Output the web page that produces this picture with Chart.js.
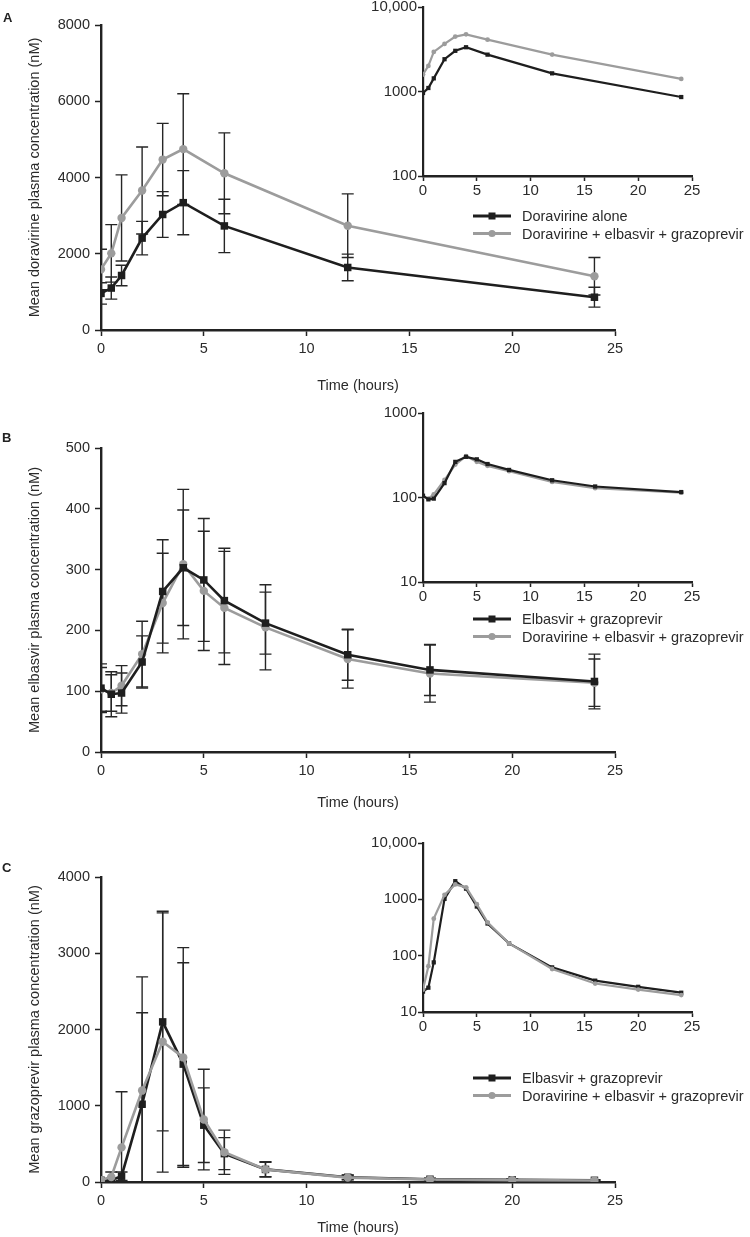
<!DOCTYPE html>
<html lang="en">
<head>
<meta charset="UTF-8" />
<title>Doravirine / elbasvir / grazoprevir plasma concentrations</title>
<script src="https://cdn.jsdelivr.net/npm/chart.js"></script>
<style>
  body { margin: 0; background: #fff; }
  #wrap { position: relative; width: 750px; height: 1237px; overflow: hidden; }
  #wrap canvas { position: absolute; }
  .tag { position: absolute; font: bold 13px 'Liberation Sans', Arial, sans-serif; color: #222; line-height: 15px; }
</style>
</head>
<body>
<div id="wrap">
  <canvas id="mainA" width="640" height="400" style="left:0;top:0"></canvas>
  <canvas id="logA" width="395" height="260" style="left:355px;top:-10px"></canvas>
  <canvas id="mainB" width="640" height="410" style="left:0;top:410px"></canvas>
  <canvas id="logB" width="395" height="250" style="left:355px;top:396px"></canvas>
  <canvas id="mainC" width="640" height="407" style="left:0;top:830px"></canvas>
  <canvas id="logC" width="395" height="280" style="left:355px;top:826px"></canvas>
  <div class="tag" style="left:3px;top:10px">A</div>
  <div class="tag" style="left:2px;top:430px">B</div>
  <div class="tag" style="left:2px;top:860px">C</div>
</div>

<script>
// ---- data ----

// A: doravirine
const timeA = [0, 0.5, 1, 2, 3, 4, 6, 12, 24];
const doraAlone = [960, 1100, 1430, 2410, 3030, 3340, 2730, 1640, 860];
const doraAloneSD = [280, 290, 270, 440, 600, 840, 700, 350, 260];
const doraCombo = [1590, 2010, 2940, 3660, 4470, 4745, 4110, 2735, 1410];
const doraComboSD = [530, 755, 1130, 1140, 950, 1450, 1060, 835, 490];

// B: elbasvir
const timeB = [0, 0.5, 1, 2, 3, 4, 5, 6, 8, 12, 16, 24];
const elbaEG = [105, 95, 97, 148, 264, 303, 283, 249, 212, 160, 135, 116];
const elbaEGSD = [40, 37, 33, 43, 85, 95, 101, 86, 51, 42, 42, 45];
const elbaDEG = [103, 97, 109, 161, 245, 309, 265, 237, 205, 153, 129, 114];
const elbaDEGSD = [36, 30, 33, 54, 82, 123, 98, 93, 70, 48, 47, 39];

// C: grazoprevir
const timeC = [0, 0.5, 1, 2, 3, 4, 5, 6, 8, 12, 16, 20, 24];
const grazEG = [23, 27, 76, 1020, 2100, 1546, 745, 372, 165, 62, 36, 28, 22];
const grazEGSD = [10, 20, 55, 1200, 1430, 1330, 490, 210, 95, 30, 15, 12, 8];
const grazDEG = [25, 65, 454, 1200, 1840, 1634, 819, 390, 165, 58, 32, 25, 20];
const grazDEGSD = [12, 66, 730, 1490, 1710, 1440, 660, 290, 100, 30, 15, 12, 8];

// axis ticks
const timeTicks = { min: 0, max: 25, step: 5 };
const logTicksA = [100, 1000, 10000];
const logTicksB = [10, 100, 1000];
const logTicksC = [10, 100, 1000, 10000];

const labelDoraAlone = 'Doravirine alone';
const labelEG = 'Elbasvir + grazoprevir';
const labelDEG = 'Doravirine + elbasvir + grazoprevir';

// ---- styling ----
const FONT = "'Liberation Sans', Arial, sans-serif";
const INK = '#1e1e1e';
const GREY = '#9c9c9c';
const AXIS = '#222';
const TEXT = '#2b2b2b';

const pts = (xs, ys) => xs.map((x, i) => ({ x: x, y: ys[i] }));

// vertical SD bars, drawn with the chart's own scales
const errorBars = {
  id: 'errorBars',
  beforeDatasetsDraw(chart, args, opts) {
    if (!opts.sd) return;
    const { ctx, chartArea } = chart;
    const xs = chart.scales.x, ys = chart.scales.y;
    ctx.save();
    ctx.beginPath();
    ctx.rect(chartArea.left, chartArea.top - 2, chartArea.right - chartArea.left, chartArea.bottom - chartArea.top + 1);
    ctx.clip();
    ctx.strokeStyle = opts.color;
    ctx.lineWidth = opts.width;
    chart.data.datasets.forEach((ds, k) => {
      const sd = opts.sd[k];
      ds.data.forEach((p, i) => {
        const px = xs.getPixelForValue(p.x);
        const hi = ys.getPixelForValue(p.y + sd[i]);
        const lo = ys.getPixelForValue(p.y - sd[i]);
        ctx.beginPath();
        ctx.moveTo(px, hi); ctx.lineTo(px, lo);
        ctx.moveTo(px - opts.cap, hi); ctx.lineTo(px + opts.cap, hi);
        ctx.moveTo(px - opts.cap, lo); ctx.lineTo(px + opts.cap, lo);
        ctx.stroke();
      });
    });
    ctx.restore();
  }
};

// legend under the inset: short line with marker, then text
const lineLegend = {
  id: 'lineLegend',
  afterDraw(chart, args, opts) {
    if (!opts.dy) return;
    const { ctx, chartArea } = chart;
    ctx.save();
    ctx.font = '14.5px ' + FONT;
    ctx.textBaseline = 'middle';
    chart.data.datasets.forEach((ds, i) => {
      const y = chartArea.bottom + opts.dy + i * opts.gap;
      const x0 = chartArea.left + opts.dx;
      ctx.strokeStyle = ds.borderColor;
      ctx.lineWidth = 3;
      ctx.beginPath(); ctx.moveTo(x0, y); ctx.lineTo(x0 + 38, y); ctx.stroke();
      ctx.fillStyle = ds.borderColor;
      if (ds.pointStyle === 'rect') {
        ctx.fillRect(x0 + 19 - 3.5, y - 3.5, 7, 7);
      } else {
        ctx.beginPath(); ctx.arc(x0 + 19, y, 3.6, 0, Math.PI * 2); ctx.fill();
      }
      ctx.fillStyle = TEXT;
      ctx.fillText(ds.label, x0 + 49, y + 1);
    });
    ctx.restore();
  }
};

function series(label, xs, ys, dark, order, small) {
  return {
    label: label,
    data: pts(xs, ys),
    borderColor: dark ? INK : GREY,
    backgroundColor: dark ? INK : GREY,
    pointStyle: dark ? 'rect' : 'circle',
    pointRadius: small ? (dark ? 3 : 2.4) : (dark ? 5.3 : 4.2),
    pointBorderWidth: 0,
    borderWidth: small ? 2.2 : 2.6,
    tension: 0,
    order: order
  };
}

function xScale(height, tickLen, pad, fontSize, title, titleBottom) {
  return {
    type: 'linear',
    min: timeTicks.min, max: timeTicks.max,
    ticks: { stepSize: timeTicks.step, color: TEXT, font: { family: FONT, size: fontSize }, padding: pad, maxRotation: 0 },
    grid: { drawOnChartArea: false, drawTicks: true, tickLength: tickLen, tickWidth: 1.5, color: AXIS },
    border: { color: AXIS, width: 2.4 },
    title: { display: !!title, text: title, color: TEXT, font: { family: FONT, size: 14.5 }, padding: { top: 0, bottom: titleBottom } },
    afterFit: s => { s.height = height; }
  };
}

function mainChart(id, datasets, sd, yMax, yStep, yTitle, padTop, xHeight, titleBottom) {
  return new Chart(document.getElementById(id), {
    type: 'line',
    data: { datasets: datasets },
    options: {
      responsive: false, animation: false, devicePixelRatio: 1,
      layout: { padding: { top: padTop, right: 25, left: 0, bottom: 0 } },
      scales: {
        x: xScale(xHeight, 6, 4, 14.5, 'Time (hours)', titleBottom),
        y: {
          type: 'linear', min: 0, max: yMax,
          ticks: { stepSize: yStep, callback: v => String(v), color: TEXT, font: { family: FONT, size: 14.5 }, padding: 5 },
          grid: { drawOnChartArea: false, drawTicks: true, tickLength: 6, tickWidth: 1.5, color: AXIS },
          border: { color: AXIS, width: 2.4 },
          title: { display: true, text: yTitle, color: TEXT, font: { family: FONT, size: 14.5 }, padding: { top: 26, bottom: 0 } },
          afterFit: s => { s.width = 101; }
        }
      },
      plugins: {
        legend: { display: false }, tooltip: { enabled: false },
        errorBars: { sd: sd, color: '#262626', width: 1.4, cap: 6 },
        lineLegend: {}
      }
    },
    plugins: [errorBars, lineLegend]
  });
}

function logChart(id, datasets, decades, padTop, xHeight, legendDy) {
  return new Chart(document.getElementById(id), {
    type: 'line',
    data: { datasets: datasets },
    options: {
      responsive: false, animation: false, devicePixelRatio: 1,
      layout: { padding: { top: padTop, right: 58, left: 0, bottom: 0 } },
      scales: {
        x: xScale(xHeight, 5, 1, 15, '', 0),
        y: {
          type: 'logarithmic', min: decades[0], max: decades[decades.length - 1],
          afterBuildTicks: s => { s.ticks = decades.map(v => ({ value: v })); },
          ticks: { callback: v => (v >= 10000 ? v.toLocaleString('en-US') : String(v)), color: TEXT, font: { family: FONT, size: 15 }, padding: 1 },
          grid: { drawOnChartArea: false, drawTicks: true, tickLength: 5, tickWidth: 1.5, color: AXIS },
          border: { color: AXIS, width: 2.2 },
          afterFit: s => { s.width = 68; }
        }
      },
      plugins: {
        legend: { display: false }, tooltip: { enabled: false },
        errorBars: {},
        lineLegend: { dx: 50, dy: legendDy, gap: 17.5 }
      }
    },
    plugins: [errorBars, lineLegend]
  });
}

// ---- panel A ----
mainChart('mainA',
  [series(labelDoraAlone, timeA, doraAlone, true, 0), series(labelDEG, timeA, doraCombo, false, 1)],
  [doraAloneSD, doraComboSD], 8000, 2000,
  'Mean doravirine plasma concentration (nM)', 25, 70, 5);
logChart('logA',
  [series(labelDoraAlone, timeA, doraAlone, true, 0, true), series(labelDEG, timeA, doraCombo, false, 1, true)],
  logTicksA, 17, 74, 40);

// ---- panel B ----
mainChart('mainB',
  [series(labelEG, timeB, elbaEG, true, 0), series(labelDEG, timeB, elbaDEG, false, 1)],
  [elbaEGSD, elbaDEGSD], 500, 100,
  'Mean elbasvir plasma concentration (nM)', 38, 68, 8);
logChart('logB',
  [series(labelEG, timeB, elbaEG, true, 0, true), series(labelDEG, timeB, elbaDEG, false, 1, true)],
  logTicksB, 17, 64, 37);

// ---- panel C ----
mainChart('mainC',
  [series(labelEG, timeC, grazEG, true, 1), series(labelDEG, timeC, grazDEG, false, 0)],
  [grazEGSD, grazDEGSD], 4000, 1000,
  'Mean grazoprevir plasma concentration (nM)', 47, 55, 0);
logChart('logC',
  [series(labelEG, timeC, grazEG, true, 1, true), series(labelDEG, timeC, grazDEG, false, 0, true)],
  logTicksC, 17, 94, 66);
</script>
</body>
</html>
